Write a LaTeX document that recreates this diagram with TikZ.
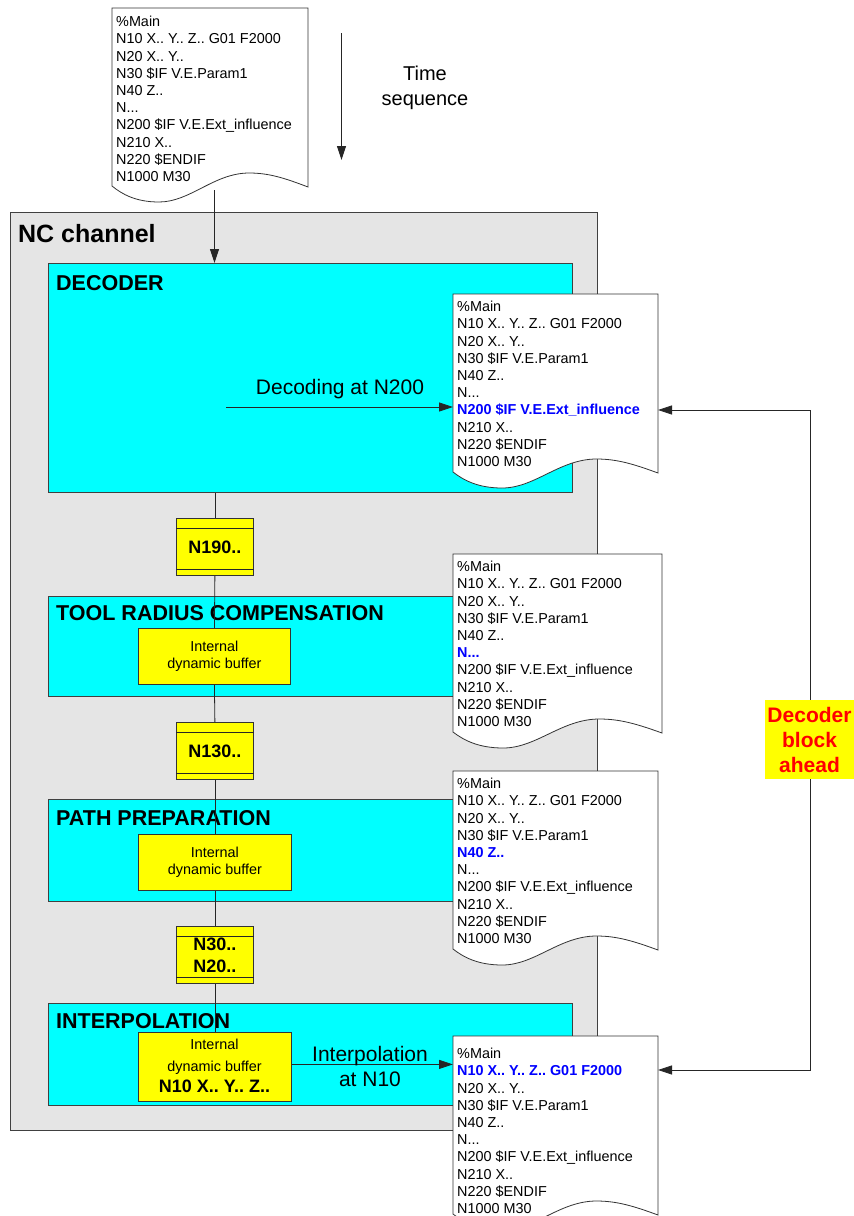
\documentclass[tikz,border=0pt]{standalone}
\usepackage{fontspec}
\setmainfont{Liberation Sans}
\usetikzlibrary{arrows.meta,calc}
\definecolor{ncgray}{RGB}{229,229,229}
\definecolor{stagecyan}{RGB}{0,255,255}
\definecolor{bufyellow}{RGB}{255,255,0}
\definecolor{hlblue}{RGB}{0,0,255}
\definecolor{alertred}{RGB}{255,0,0}
\newcommand{\hlline}[1]{\textcolor{hlblue}{\bfseries #1}}
\newcommand{\DocShape}[4]{%
  \draw[docline] (#2,#3) coordinate (#1) -- ({#2+#4},#3) coordinate (#1r)
    -- ({#2+#4},{#3+179})
    .. controls ({#2+0.88*#4},{#3+170}) and ({#2+0.80*#4},{#3+165}) .. ({#2+0.70*#4},{#3+165})
    .. controls ({#2+0.52*#4},{#3+165}) and ({#2+0.40*#4},{#3+194}) .. ({#2+0.24*#4},{#3+194})
    .. controls ({#2+0.12*#4},{#3+194}) and ({#2+0.05*#4},{#3+186}) .. (#2,{#3+178}) -- cycle;}
\tikzset{
  ncbox/.style={draw=black!75, line width=0.9pt, fill=ncgray, anchor=north west, inner sep=0},
  stagebox/.style={draw=black!75, line width=0.9pt, fill=stagecyan, anchor=north west, inner sep=0},
  bufbox/.style={draw=black!80, line width=0.8pt, fill=bufyellow, anchor=north west, inner sep=0,
    align=center, font=\fontsize{14.4}{17}\selectfont},
  stackbox/.style={draw=black!80, line width=0.8pt, fill=bufyellow, anchor=north west, inner sep=0,
    align=center, minimum width=77, minimum height=57, font=\bfseries\fontsize{18}{22}\selectfont},
  heading/.style={anchor=west, inner sep=0, font=\bfseries\fontsize{21.5}{25}\selectfont},
  docline/.style={draw=black!80, line width=0.8pt, fill=white},
  doctext/.style={anchor=north west, inner sep=0, align=left, font=\fontsize{14.4}{17.2}\selectfont},
  conn/.style={line width=0.8pt, draw=black!85},
  arr/.style={conn, -{Triangle[length=14pt,width=9pt]}},
  biglabel/.style={inner sep=0, align=center, font=\fontsize{21}{25}\selectfont},
}
\begin{document}
\frenchspacing
\begin{tikzpicture}[x=1pt,y=-1pt]
\path[clip] (0,0) rectangle (854,1216);
\fill[white] (0,0) rectangle (854,1216);

% NC channel frame
\node[ncbox, minimum width=587, minimum height=918] (nc) at (10,212) {};
\node[heading, font=\bfseries\fontsize{25}{29}\selectfont] (nclabel) at (18,234) {NC channel};

% stages
\node[stagebox, minimum width=524, minimum height=229] (dec) at (48,263) {};
\node[stagebox, minimum width=524, minimum height=100] (trc) at (48,596) {};
\node[stagebox, minimum width=524, minimum height=102] (pp) at (48,799) {};
\node[stagebox, minimum width=524, minimum height=102] (ip) at (48,1003) {};
\node[heading] (dech) at (56,283) {DECODER};
\node[heading] (trch) at (56,613) {TOOL RADIUS COMPENSATION};
\node[heading] (pph) at (56,818) {PATH PREPARATION};
\node[heading] (iph) at (56,1021) {INTERPOLATION};

% yellow boxes
\node[stackbox] (n190) at (176,518) {N190..};
\node[stackbox] (n130) at (176,722) {N130..};
\node[stackbox] (n30) at (176,926) {N30..\\N20..};
\foreach \s in {n190,n130,n30}{
  \draw[conn] ($(\s.north west)+(0,10)$) -- ($(\s.north east)+(0,10)$);
  \draw[conn] ($(\s.south west)+(0,-6)$) -- ($(\s.south east)+(0,-6)$);
}
\node[bufbox, minimum width=152, minimum height=56] (ib1) at (138,628) {Internal\\dynamic buffer};
\node[bufbox, minimum width=153, minimum height=56] (ib2) at (138,834) {Internal\\dynamic buffer};
\node[bufbox, minimum width=153, minimum height=69] (ib3) at (138,1032) {};
\node[inner sep=0, align=center, font=\fontsize{14.4}{22}\selectfont] (ib3t) at (214.5,1066)
  {Internal\\dynamic buffer\\[-1pt]{\bfseries\fontsize{18}{22}\selectfont N10 X.. Y.. Z..}};

% chain of blocks
\draw[conn] (dec.south -| n190.north) -- (n190.north);
\draw[conn] (n190.south) -- (ib1.north);
\draw[conn] (ib1.south) -- (n130.north);
\draw[conn] (n130.south) -- (ib2.north);
\draw[conn] (ib2.south) -- (n30.north);
\draw[conn] (n30.south) -- (ib3.north);

% top program and time sequence
\coordinate (topout) at (214.5,190);
\draw[arr] (topout) -- (dec.north -| topout);
\DocShape{d0}{112}{8}{196}
\node[doctext] (d0t) at (116,16) {\%Main\\N10 X.. Y.. Z.. G01 F2000\\N20 X.. Y..\\N30 \$IF V.E.Param1\\N40 Z..\\N...\\N200 \$IF V.E.Ext\_influence\\N210 X..\\N220 \$ENDIF\\N1000 M30};
\coordinate (ts1) at (341.5,33);
\coordinate (ts2) at (341.5,160);
\draw[arr] (ts1) -- (ts2);
\node[biglabel, font=\fontsize{20}{25}\selectfont] (tslabel) at (425,88) {Time\\sequence};

% program copies
\DocShape{d1}{453}{294}{205}
\node[doctext] (d1t) at (457,301) {\%Main\\N10 X.. Y.. Z.. G01 F2000\\N20 X.. Y..\\N30 \$IF V.E.Param1\\N40 Z..\\N...\\\hlline{N200 \$IF V.E.Ext\_influence}\\N210 X..\\N220 \$ENDIF\\N1000 M30};
\DocShape{d2}{453}{554}{209}
\node[doctext] (d2t) at (457,561) {\%Main\\N10 X.. Y.. Z.. G01 F2000\\N20 X.. Y..\\N30 \$IF V.E.Param1\\N40 Z..\\\hlline{N...}\\N200 \$IF V.E.Ext\_influence\\N210 X..\\N220 \$ENDIF\\N1000 M30};
\DocShape{d3}{453}{771}{205}
\node[doctext] (d3t) at (457,778) {\%Main\\N10 X.. Y.. Z.. G01 F2000\\N20 X.. Y..\\N30 \$IF V.E.Param1\\\hlline{N40 Z..}\\N...\\N200 \$IF V.E.Ext\_influence\\N210 X..\\N220 \$ENDIF\\N1000 M30};
\DocShape{d4}{453}{1036}{205}
\node[doctext] (d4t) at (457,1048) {\%Main\\\hlline{N10 X.. Y.. Z.. G01 F2000}\\N20 X.. Y..\\N30 \$IF V.E.Param1\\N40 Z..\\N...\\N200 \$IF V.E.Ext\_influence\\N210 X..\\N220 \$ENDIF\\N1000 M30};

% decoding / interpolation arrows
\coordinate (decstart) at (226,407);
\draw[arr] (decstart) -- (decstart -| d1);
\node[biglabel] (declabel) at (340,389) {Decoding at N200};
\coordinate (ipstart) at ($(ib3.east)+(0,-2.5)$);
\draw[arr] (ipstart) -- (ipstart -| d4);
\node[biglabel] (iplabel) at (370,1066) {Interpolation\\at N10};

% decoder block ahead loop
\coordinate (loopTop) at (810.5,410);
\coordinate (loopBot) at (810.5,1070);
\draw[conn] (loopTop) -- (loopBot);
\draw[arr] (loopTop) -- (loopTop -| d1r);
\draw[arr] (loopBot) -- (loopBot -| d4r);
\node[fill=bufyellow, text=alertred, biglabel, font=\bfseries\fontsize{21}{25}\selectfont,
  minimum width=89, minimum height=79] (ahead) at (809.5,739.5) {Decoder\\block\\ahead};
\end{tikzpicture}
\end{document}
